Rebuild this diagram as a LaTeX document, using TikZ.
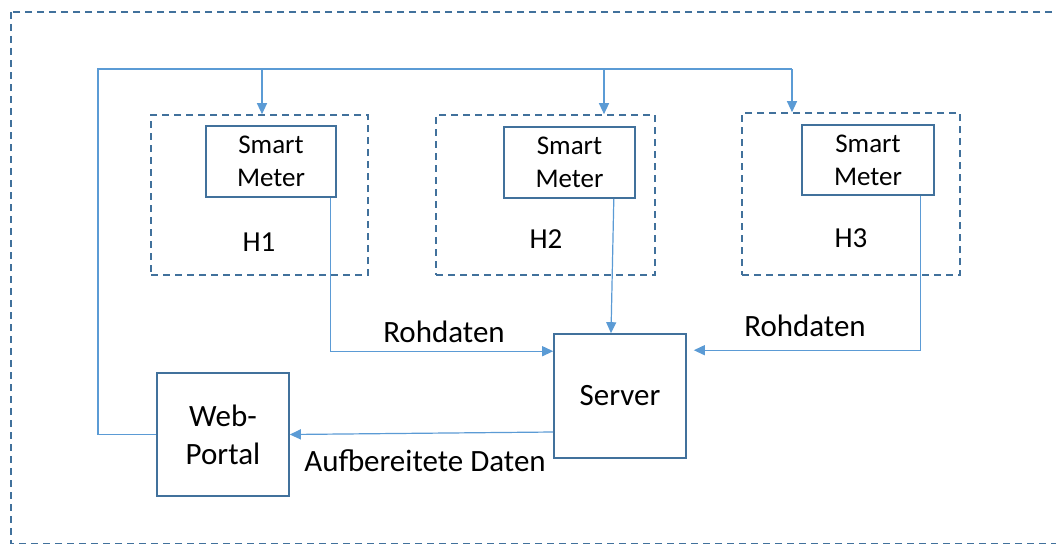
\documentclass[tikz,border=0pt]{standalone}
\usepackage{fontspec}
\setmainfont{Carlito}
\usetikzlibrary{arrows.meta}
\definecolor{frameblue}{HTML}{41719C}
\definecolor{linkblue}{HTML}{5B9BD5}
\tikzset{
  house/.style={draw=frameblue, line width=1.6pt, dash pattern=on 7pt off 5pt, inner sep=0pt},
  device/.style={draw=frameblue, line width=1.6pt, fill=white, inner sep=0pt, align=center},
  meterbox/.style={device, font=\fontsize{27}{33}\selectfont},
  mainbox/.style={device, font=\fontsize{31}{38}\selectfont},
  caption/.style={inner sep=0pt, font=\fontsize{31}{38}\selectfont},
  hlabel/.style={inner sep=0pt, font=\fontsize{29}{34}\selectfont},
  conn/.style={draw=linkblue, line width=1.2pt},
  flow/.style={conn, -{Triangle[length=11pt,width=10pt]}}
}
\begin{document}
\begin{tikzpicture}[x=1pt,y=-1pt]
  \useasboundingbox (0,0) rectangle (1056,543);
  \clip (0,0) rectangle (1056,543);
  \fill[white] (0,0) rectangle (1056,543);

  % outer system boundary
  \draw[frameblue, line width=1.6pt, dash pattern=on 7pt off 5pt] (11,12) rectangle (1080,543.6);

  % households
  \node[house, minimum width=217pt, minimum height=160pt] (h1) at (259.5,195) {};
  \node[house, minimum width=219pt, minimum height=160pt] (h2) at (545.5,195) {};
  \node[house, minimum width=218pt, minimum height=162pt] (h3) at (851,194) {};
  \node[hlabel] (h1lbl) at (259,242) {H1};
  \node[hlabel] (h2lbl) at (546,239) {H2};
  \node[hlabel] (h3lbl) at (851,238) {H3};

  % smart meters
  \node[meterbox, minimum width=130pt, minimum height=71pt] (sm1) at (271,161.5) {Smart\\Meter};
  \node[meterbox, minimum width=131pt, minimum height=71pt] (sm2) at (569.5,162.5) {Smart\\Meter};
  \node[meterbox, minimum width=132pt, minimum height=70pt] (sm3) at (868,160) {Smart\\Meter};

  % server and portal
  \node[mainbox, minimum width=132pt, minimum height=124pt] (server) at (620,396) {Server};
  \node[mainbox, minimum width=132pt, minimum height=123pt] (web) at (223,434.5) {Web-\\Portal};

  % feedback bus from the portal to the households
  \coordinate (busL) at (98,69);
  \coordinate (busR) at (792,69);
  \coordinate (drop1) at ([xshift=2.5pt]h1.north);
  \coordinate (drop2) at ([xshift=58.5pt]h2.north);
  \draw[conn] (web.west) -| (busL) -- (busR);
  \draw[flow] (drop1 |- busL) -- (drop1);
  \draw[flow] (drop2 |- busL) -- (drop2);
  \draw[flow] (busR) -- (busR |- h3.north);

  % raw data to the server
  \draw[flow] ([xshift=-6pt]sm1.south east) |- ([yshift=-18pt]server.north west);
  \draw[flow] ([xshift=-22pt]sm2.south east) -- ([xshift=-9pt]server.north);
  \draw[flow] ([xshift=-14pt]sm3.south east) |- ([xshift=7pt,yshift=-17pt]server.north east);

  % processed data to the portal
  \draw[flow] ([yshift=-36pt]server.west) -- (web.east);

  % flow captions
  \node[caption] (raw1) at (444,332) {Rohdaten};
  \node[caption] (raw2) at (805,326) {Rohdaten};
  \node[caption] (proc) at (425,461) {Aufbereitete Daten};
\end{tikzpicture}
\end{document}
